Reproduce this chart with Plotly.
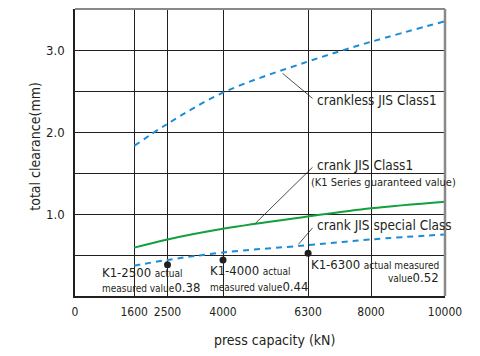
import plotly.graph_objects as go

# ---- data ----
press_kN = [1600, 2500, 4000, 6300, 8000, 10000]
crankless_jis1 = [1.83, 2.10, 2.48, 2.86, 3.10, 3.35]
crank_jis1 = [0.59, 0.69, 0.82, 0.97, 1.07, 1.15]
crank_jis_special = [0.37, 0.44, 0.53, 0.62, 0.69, 0.75]

measured_kN = [2500, 4000, 6300]
measured_val = [0.38, 0.44, 0.52]
measured_names = ["K1-2500", "K1-4000", "K1-6300"]

x_ticks = [0, 1600, 2500, 4000, 6300, 8000, 10000]
y_grid = [0, 0.5, 1.0, 1.5, 2.0, 2.5, 3.0, 3.5]
y_labels = ["", "", "1.0", "", "2.0", "", "3.0", ""]

FONT = "DejaVu Sans Condensed, Liberation Sans Narrow, sans-serif"
TXT = "#231f20"
BLUE = "#1a8cd8"
GREEN = "#12a03c"

fig = go.Figure()
fig.add_trace(go.Scatter(x=press_kN, y=crankless_jis1, mode="lines",
                         line=dict(color=BLUE, width=2, dash="6px,5px", shape="spline")))
fig.add_trace(go.Scatter(x=press_kN, y=crank_jis1, mode="lines",
                         line=dict(color=GREEN, width=2, shape="spline")))
fig.add_trace(go.Scatter(x=press_kN, y=crank_jis_special, mode="lines",
                         line=dict(color=BLUE, width=2, dash="6px,5px", shape="spline")))
fig.add_trace(go.Scatter(x=measured_kN, y=measured_val, mode="markers",
                         marker=dict(color=TXT, size=7)))

def leader(x0, y0, x1, y1):
    fig.add_annotation(x=x1, y=y1, ax=x0, ay=y0, xref="x", yref="y", axref="x", ayref="y",
                       text="", showarrow=True, arrowhead=0, arrowwidth=0.8, arrowcolor=TXT)

leader(5570, 2.73, 6420, 2.41)
leader(4840, 0.87, 6420, 1.57)
leader(6000, 0.61, 6420, 0.83)

def label(x, y, text, size=13.5, xanchor="left"):
    fig.add_annotation(x=x, y=y, xref="x", yref="y", text=text, showarrow=False,
                       xanchor=xanchor, yanchor="middle", font=dict(size=size, color=TXT, family=FONT))

label(6480, 2.39, "crankless JIS Class1")
label(6480, 1.60, "crank JIS Class1")
label(6330, 1.38, "(K1 Series guaranteed value)", size=11)
label(6480, 0.87, "crank JIS special Class")

def small(s):
    return f"<span style='font-size:10px'>{s}</span>"

def big(s):
    return f"<span style='font-size:13px'>{s}</span>"

def pt_label(x, y1, y2, l1, l2, xanchor):
    for y, t in ((y1, l1), (y2, l2)):
        fig.add_annotation(x=x, y=y, xref="x", yref="y", showarrow=False, xanchor=xanchor,
                           yanchor="middle", font=dict(size=13, color=TXT, family=FONT), text=t)

pt_label(676, 0.29, 0.10, f"{big(measured_names[0])} {small('actual')}",
         f"{small('measured value')}{big(f'{measured_val[0]:.2f}')}", "left")
pt_label(3595, 0.31, 0.12, f"{big(measured_names[1])} {small('actual')}",
         f"{small('measured value')}{big(f'{measured_val[1]:.2f}')}", "left")
pt_label(9890, 0.39, 0.23, f"{big(measured_names[2])} {small('actual measured')}",
         f"{small('value')}{big(f'{measured_val[2]:.2f}')}", "right")

# axis titles
fig.add_annotation(xref="paper", yref="paper", x=0.54, y=0, yshift=-44, showarrow=False,
                   text="press capacity (kN)", font=dict(size=14, color=TXT, family=FONT),
                   xanchor="center", yanchor="middle")
fig.add_annotation(xref="paper", yref="paper", x=0, xshift=-40, y=0.52, showarrow=False,
                   text="total clearance(mm)", textangle=-90, font=dict(size=14, color=TXT, family=FONT),
                   xanchor="center", yanchor="middle")

fig.update_layout(
    width=480, height=356,
    margin=dict(l=67, r=43, t=1, b=68, autoexpand=False),
    paper_bgcolor="white", plot_bgcolor="white",
    showlegend=False,
    font=dict(family=FONT, color=TXT, size=13),
    xaxis=dict(range=[0, 10000], tickvals=x_ticks, ticktext=[str(v) for v in x_ticks],
               showgrid=True, gridcolor=TXT, gridwidth=1, zeroline=False, automargin=False,
               ticks="outside", ticklen=4, tickcolor="rgba(0,0,0,0)", tickangle=0,
               showline=True, linecolor=TXT, linewidth=1.5,
               tickfont=dict(size=12)),
    yaxis=dict(range=[0, 3.5], tickvals=y_grid, ticktext=y_labels,
               showgrid=True, gridcolor=TXT, gridwidth=1, zeroline=False, automargin=False,
               ticks="outside", ticklen=6, tickcolor="rgba(0,0,0,0)",
               showline=True, linecolor=TXT, linewidth=1.5,
               tickfont=dict(size=13)),
)
# grey top / right frame
fig.add_shape(type="line", xref="paper", yref="paper", x0=0, y0=1, x1=1, y1=1,
              line=dict(color="#8a8888", width=2), layer="above")
fig.add_shape(type="line", xref="paper", yref="paper", x0=1, y0=0, x1=1, y1=1,
              line=dict(color="#8a8888", width=2.5), layer="above")

fig.write_html("out.html")
